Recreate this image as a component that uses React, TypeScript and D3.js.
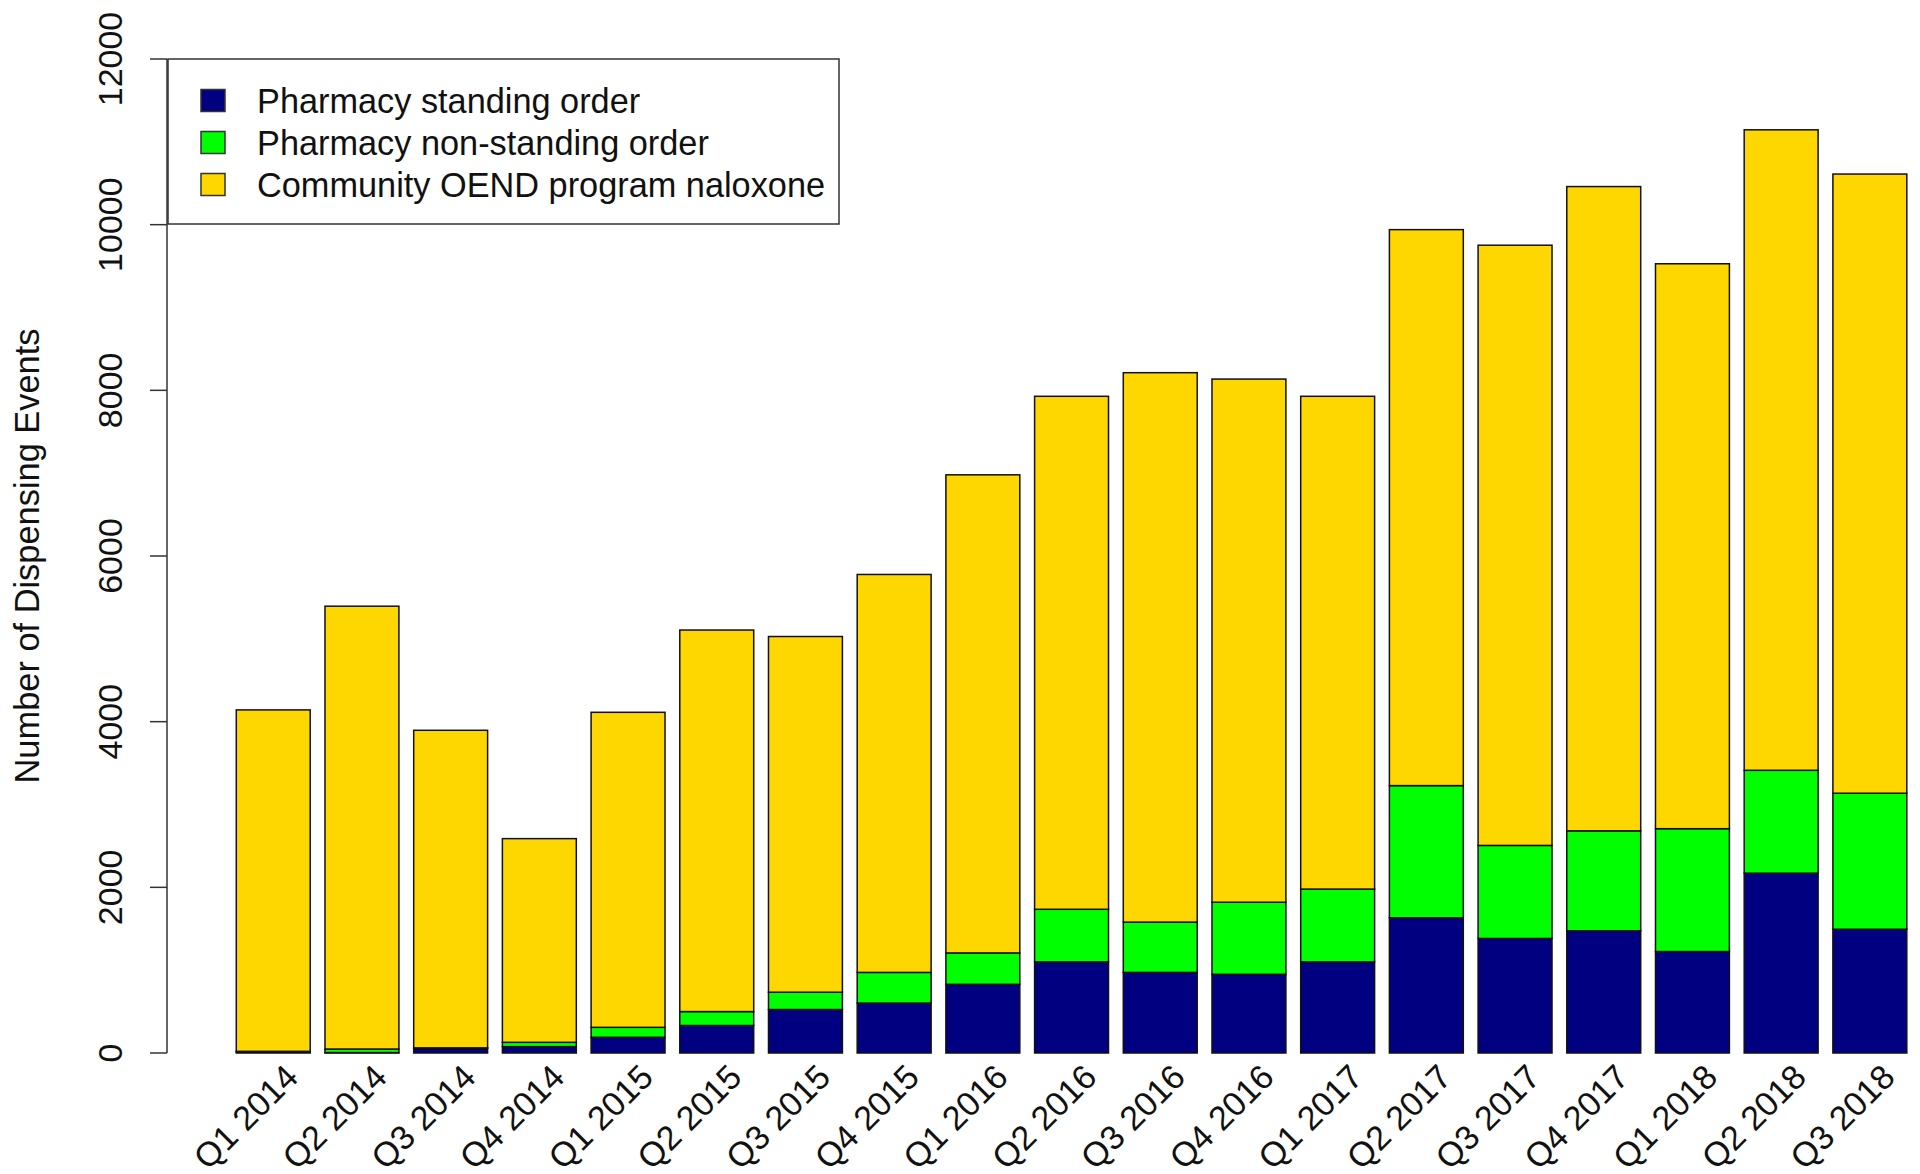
import React from "react";
import * as d3 from "d3";

const categories = [
  "Q1 2014", "Q2 2014", "Q3 2014", "Q4 2014",
  "Q1 2015", "Q2 2015", "Q3 2015", "Q4 2015",
  "Q1 2016", "Q2 2016", "Q3 2016", "Q4 2016",
  "Q1 2017", "Q2 2017", "Q3 2017", "Q4 2017",
  "Q1 2018", "Q2 2018", "Q3 2018",
];
const standingOrder = [12, 5, 57, 77, 190, 332, 525, 603, 829, 1100, 973, 950, 1100, 1632, 1383, 1476, 1225, 2171, 1494];
const nonStandingOrder = [8, 43, 5, 52, 120, 168, 209, 370, 379, 635, 607, 870, 879, 1596, 1123, 1206, 1483, 1242, 1642];
const communityOEND = [4122, 5346, 3834, 2459, 3803, 4606, 4294, 4804, 5772, 6193, 6633, 6316, 5949, 6712, 7246, 7778, 6820, 7732, 7475];

const seriesKeys = ["standing", "nonStanding", "community"];
const seriesLabels = ["Pharmacy standing order", "Pharmacy non-standing order", "Community OEND program naloxone"];
const seriesColors = ["#000080", "#00FF00", "#FFD700"];
const yTicks = [0, 2000, 4000, 6000, 8000, 10000, 12000];

const FONT = "'Liberation Sans', Arial, Helvetica, sans-serif";
const FS = 34;

export default function App() {
  const W = 1920, H = 1174;
  const rows = categories.map((c, i) => ({
    cat: c,
    standing: standingOrder[i],
    nonStanding: nonStandingOrder[i],
    community: communityOEND[i],
  }));
  const stacked = d3.stack<any>().keys(seriesKeys)(rows);

  const x = d3.scaleBand<string>()
    .domain(categories)
    .range([228.9, 1914.2])
    .paddingInner(1 / 6)
    .paddingOuter(1 / 12);
  const y = d3.scaleLinear().domain([0, 12000]).range([1053, 59]);
  const axisX = 167;

  return (
    <svg width={W} height={H} style={{ position: "absolute", left: 0, top: 0, background: "#fff" }}
      fontFamily={FONT}>
      {/* bars */}
      {stacked.map((s, si) => (
        <g key={s.key}>
          {s.map((d, i) => (
            <rect key={i}
              x={x(categories[i])}
              y={y(d[1])}
              width={x.bandwidth()}
              height={Math.max(0, y(d[0]) - y(d[1]))}
              fill={seriesColors[si]}
              stroke="#111"
              strokeWidth={1.5} />
          ))}
        </g>
      ))}

      {/* y axis */}
      <line x1={axisX} x2={axisX} y1={y(0)} y2={y(12000)} stroke="#333" strokeWidth={1.5} />
      {yTicks.map(t => (
        <g key={t}>
          <line x1={axisX - 17} x2={axisX} y1={y(t)} y2={y(t)} stroke="#333" strokeWidth={1.5} />
          <text transform={`translate(122,${y(t)}) rotate(-90)`} textAnchor="middle"
            fontSize={FS} fill="#111">{t}</text>
        </g>
      ))}
      <text transform={`translate(39,${(y(0) + y(12000)) / 2}) rotate(-90)`} textAnchor="middle"
        fontSize={34.4} fill="#111">Number of Dispensing Events</text>

      {/* x labels */}
      {categories.map(c => (
        <text key={c}
          transform={`translate(${(x(c) as number) + x.bandwidth() / 2 + 27},1079) rotate(-45)`}
          textAnchor="end" fontSize={FS} fill="#111">{c}</text>
      ))}

      {/* legend */}
      <rect x={168} y={59} width={671} height={165} fill="#fff" stroke="#333" strokeWidth={1.5} />
      {seriesLabels.map((lab, i) => {
        const cy = 100.5 + i * 42;
        return (
          <g key={lab}>
            <rect x={201} y={cy - 11} width={24} height={22} fill={seriesColors[i]} stroke="#333" strokeWidth={1.5} />
            <text x={257} y={cy} dy="0.35em" fontSize={34.3} fill="#111">{lab}</text>
          </g>
        );
      })}
    </svg>
  );
}
